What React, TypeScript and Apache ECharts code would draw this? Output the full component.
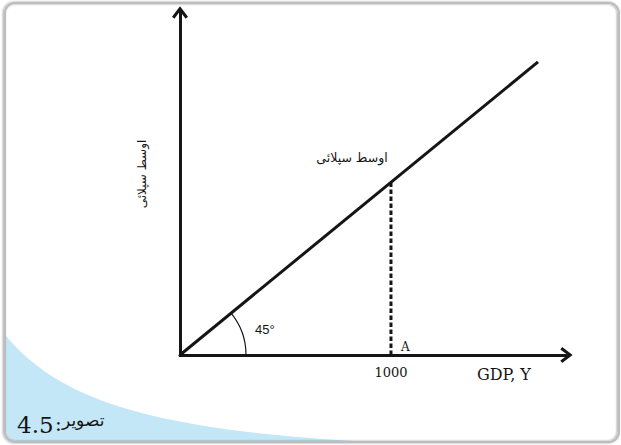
import React, { useEffect, useRef } from 'react';
import * as echarts from 'echarts';

// ---- data ----
const supplyX = [0, 1697];
const supplyY = [0, 1697];
const dashX = [1000, 1000];
const dashY = [0, 1000];
const xTickValues = [1000];
const xTickLabels = ['1000'];
const xMax = 1832;
const yMax = 1983;
const yAxisTitle = 'اوسط سپلائی';
const lineTitle = 'اوسط سپلائی';
const xAxisTitle = 'GDP, Y';
const pointLabel = 'A';
const angleLabel = '45°';
const figNumber = '4.5';
const figWord = 'تصویر';

const INK = '#151515';
const ARROW = 'path://M8,0L16,10.5L13.6,12.3L8,5L2.4,12.3L0,10.5Z';

function bezierPts(p0: number[], p1: number[], p2: number[], p3: number[], n: number) {
  const out: number[][] = [];
  for (let i = 0; i <= n; i++) {
    const t = i / n, u = 1 - t;
    const a = u * u * u, b = 3 * u * u * t, c = 3 * u * t * t, d = t * t * t;
    out.push([a * p0[0] + b * p1[0] + c * p2[0] + d * p3[0], a * p0[1] + b * p1[1] + c * p2[1] + d * p3[1]]);
  }
  return out;
}

export default function App() {
  const ref = useRef<HTMLDivElement>(null);
  useEffect(() => {
    if (!ref.current) return;
    const chart = echarts.init(ref.current, null, { renderer: 'svg' });
    const supply = supplyX.map((x, i) => [x, supplyY[i]]);
    const dashed = dashX.map((x, i) => [x, dashY[i]]);
    chart.setOption({
      animation: false,
      backgroundColor: '#ffffff',
      grid: { left: 180, right: 54.5, top: 12.5, bottom: 90, containLabel: false },
      xAxis: {
        type: 'value', min: 0, max: xMax, interval: 1000,
        splitLine: { show: false },
        axisTick: { show: false },
        axisLine: { show: true, symbol: ['none', ARROW], symbolSize: [16, 13], lineStyle: { color: INK, width: 3 } },
        axisLabel: {
          show: true, margin: 11, color: INK, fontFamily: 'DejaVu Serif', fontSize: 13,
          showMinLabel: false, showMaxLabel: false,
          formatter: (v: number) => { const k = xTickValues.indexOf(v); return k >= 0 ? xTickLabels[k] : ''; },
        },
      },
      yAxis: {
        type: 'value', min: 0, max: yMax,
        splitLine: { show: false },
        axisTick: { show: false },
        axisLabel: { show: false },
        axisLine: { show: true, symbol: ['none', ARROW], symbolSize: [16, 13], lineStyle: { color: INK, width: 3, cap: 'square' } },
      },
      series: [
        { type: 'line', data: supply, symbol: 'none', lineStyle: { color: INK, width: 3 }, z: 3 },
        { type: 'line', data: dashed, symbol: 'none', lineStyle: { color: INK, width: 3, type: [4.5, 2.5] }, z: 3 },
      ],
    });

    const O = chart.convertToPixel({ gridIndex: 0 }, [0, 0]) as number[];
    const L = chart.convertToPixel({ gridIndex: 0 }, [supplyX[1], supplyY[1]]) as number[];
    const A = chart.convertToPixel({ gridIndex: 0 }, [dashX[0], 0]) as number[];
    const ang = Math.atan2(O[1] - L[1], L[0] - O[0]);

    const curve = bezierPts([6, 336], [60, 400], [150, 430], [370, 442], 40);
    const blue = [...curve, [370, 442], [16, 442], [10, 441], [7, 437], [6, 432]];

    chart.setOption({
      graphic: [
        { type: 'polygon', shape: { points: blue }, style: { fill: '#c4e7f7' }, z: 0, silent: true },
        {
          type: 'rect', shape: { x: 5, y: 3, width: 614, height: 439, r: 10 },
          style: { fill: 'none', stroke: '#bdbdbd', lineWidth: 2, shadowBlur: 2, shadowColor: 'rgba(0,0,0,0.4)', shadowOffsetX: -1 },
          z: 10, silent: true,
        },
        {
          type: 'arc', shape: { cx: O[0], cy: O[1], r: 66, startAngle: -ang, endAngle: 0, clockwise: true },
          style: { stroke: INK, lineWidth: 1.2, fill: 'none' }, z: 5,
        },
        { type: 'text', x: O[0] + 75, y: O[1] - 26, style: { text: angleLabel, fill: INK, font: '13px "Liberation Sans"', align: 'left', verticalAlign: 'middle' }, z: 5 },
        { type: 'text', x: A[0] + 10, y: A[1] - 8.5, style: { text: pointLabel, fill: INK, font: '12px "DejaVu Serif"', align: 'left', verticalAlign: 'middle' }, z: 5 },
        { type: 'text', x: 477, y: 374, style: { text: xAxisTitle, fill: INK, font: '16px "DejaVu Serif"', align: 'left', verticalAlign: 'middle' }, z: 5 },
        { type: 'text', x: 352, y: 157, style: { text: lineTitle, fill: INK, font: '12.5px "DejaVu Sans"', align: 'center', verticalAlign: 'middle' }, z: 5 },
        { type: 'text', x: 142, y: 174, rotation: Math.PI / 2, style: { text: yAxisTitle, fill: INK, font: '12px "DejaVu Sans"', align: 'center', verticalAlign: 'middle' }, z: 5 },
        { type: 'text', x: 17, y: 425, style: { text: figNumber, fill: INK, font: '23px "DejaVu Serif"', align: 'left', verticalAlign: 'middle' }, z: 12 },
        { type: 'text', x: 55, y: 424, style: { text: ':', fill: INK, font: '20px "DejaVu Serif"', align: 'left', verticalAlign: 'middle' }, z: 12 },
        { type: 'text', x: 62, y: 420, style: { text: figWord, fill: INK, font: '17px "DejaVu Sans"', align: 'left', verticalAlign: 'middle' }, z: 12 },
      ],
    });

    return () => chart.dispose();
  }, []);
  return <div ref={ref} style={{ position: 'absolute', left: 0, top: 0, width: 621, height: 445 }} />;
}
